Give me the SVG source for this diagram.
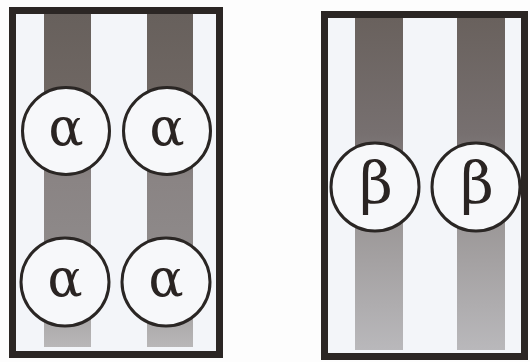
<svg xmlns="http://www.w3.org/2000/svg" width="530" height="362" viewBox="0 0 530 362">
<defs>
<linearGradient id="stripeL" x1="0" y1="0" x2="0" y2="1">
<stop offset="0" stop-color="#67605c"/>
<stop offset="0.22" stop-color="#6e6662"/>
<stop offset="0.5" stop-color="#8a8484"/>
<stop offset="0.75" stop-color="#8f8b8b"/>
<stop offset="1" stop-color="#b9b7b8"/>
</linearGradient>
<linearGradient id="stripeR" x1="0" y1="0" x2="0" y2="1">
<stop offset="0" stop-color="#69615d"/>
<stop offset="0.35" stop-color="#777070"/>
<stop offset="0.6" stop-color="#9a9696"/>
<stop offset="1" stop-color="#b9b8bb"/>
</linearGradient>
<style>
.frame{fill:#f3f5f9;stroke:#2b2624;stroke-width:7}
.ring{fill:#f7f8fa;stroke:#2a2624;stroke-width:3}
.sym{font-family:"DejaVu Serif","Liberation Serif",serif;fill:#2a2422;text-anchor:middle}
</style>
</defs>
<rect width="530" height="362" fill="#fdfdfd"/>
<g id="panel-alpha">
<rect class="frame" x="12.5" y="10.5" width="207" height="344"/>
<rect x="44" y="14" width="47" height="333" fill="url(#stripeL)"/>
<rect x="147" y="14" width="46" height="333" fill="url(#stripeL)"/>
</g>
<g id="panel-beta">
<rect class="frame" x="324.5" y="14.5" width="200" height="342"/>
<rect x="355" y="18" width="48" height="332" fill="url(#stripeR)"/>
<rect x="457" y="18" width="48" height="332" fill="url(#stripeR)"/>
</g>
<g id="connectors"/>
<g id="alpha1"><circle class="ring" cx="66" cy="131" r="43.5"/><text class="sym" x="66" y="145" font-size="52">α</text></g>
<g id="alpha2"><circle class="ring" cx="167" cy="131" r="43.5"/><text class="sym" x="167" y="145" font-size="52">α</text></g>
<g id="alpha3"><circle class="ring" cx="65" cy="282" r="44"/><text class="sym" x="65" y="296" font-size="52">α</text></g>
<g id="alpha4"><circle class="ring" cx="166" cy="282" r="44"/><text class="sym" x="166" y="296" font-size="52">α</text></g>
<g id="beta1"><circle class="ring" cx="375" cy="187" r="44"/><text class="sym" x="376" y="203" font-size="58">β</text></g>
<g id="beta2"><circle class="ring" cx="476" cy="187" r="44"/><text class="sym" x="477" y="203" font-size="58">β</text></g>
</svg>
